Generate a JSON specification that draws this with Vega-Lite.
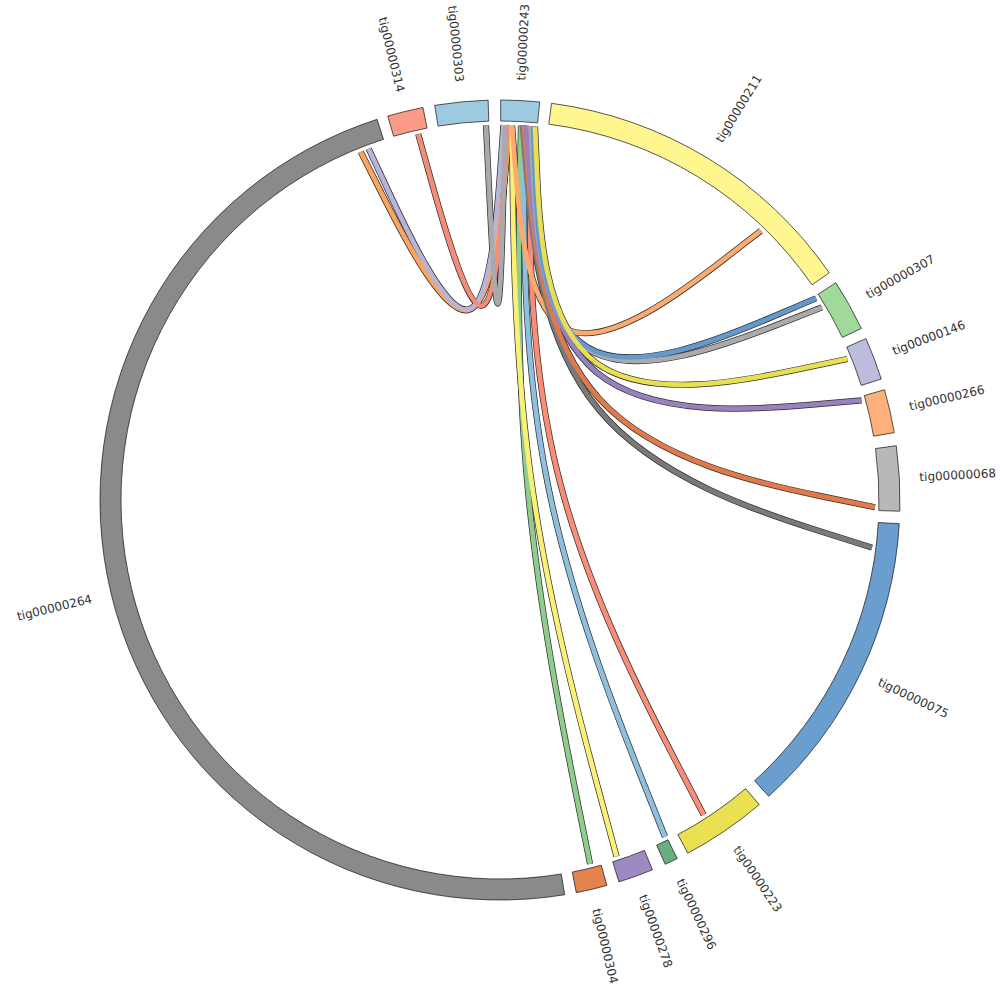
{
  "$schema": "https://vega.github.io/schema/vega-lite/v6.json",
  "width": 1000,
  "height": 1000,
  "autosize": {"type": "fit", "contains": "padding"},
  "padding": 0,
  "background": "white",
  "config": {"view": {"stroke": null}},
  "datasets": {
    "segments": [
      {"name": "tig00000243", "start": 0.1, "end": 5.7, "mid": 2.9},
      {"name": "tig00000211", "start": 7.4, "end": 55.4, "mid": 31.4},
      {"name": "tig00000307", "start": 57.1, "end": 64.6, "mid": 60.85},
      {"name": "tig00000146", "start": 66.2, "end": 72.4, "mid": 69.3},
      {"name": "tig00000266", "start": 74.0, "end": 80.3, "mid": 77.15},
      {"name": "tig00000068", "start": 82.2, "end": 91.6, "mid": 86.9},
      {"name": "tig00000075", "start": 93.4, "end": 137.8, "mid": 115.6},
      {"name": "tig00000223", "start": 139.6, "end": 152.0, "mid": 145.8},
      {"name": "tig00000296", "start": 153.7, "end": 155.6, "mid": 154.65},
      {"name": "tig00000278", "start": 157.6, "end": 162.7, "mid": 160.15},
      {"name": "tig00000304", "start": 164.5, "end": 169.0, "mid": 166.75},
      {"name": "tig00000264", "start": 170.7, "end": 342.1, "mid": 256.4},
      {"name": "tig00000314", "start": 343.7, "end": 348.9, "mid": 346.3},
      {"name": "tig00000303", "start": 350.6, "end": 358.3, "mid": 354.45}
    ],
    "chords": [
      {"chord": "243-264a", "i": 0, "x": 2.5, "y": 93.72},
      {"chord": "243-264a", "i": 1, "x": -4.04, "y": 25.97},
      {"chord": "243-264a", "i": 2, "x": -34.82, "y": 87.05},
      {"chord": "243-264b", "i": 0, "x": 0.87, "y": 93.75},
      {"chord": "243-264b", "i": 1, "x": -4.0, "y": 26.07},
      {"chord": "243-264b", "i": 2, "x": -32.83, "y": 87.81},
      {"chord": "243-314", "i": 0, "x": 2.0, "y": 93.73},
      {"chord": "243-314", "i": 1, "x": -2.31, "y": 26.53},
      {"chord": "243-314", "i": 2, "x": -20.45, "y": 91.49},
      {"chord": "303-243", "i": 0, "x": -3.5, "y": 93.68},
      {"chord": "303-243", "i": 1, "x": -0.28, "y": 26.8},
      {"chord": "303-243", "i": 2, "x": 1.24, "y": 93.74},
      {"chord": "243-304", "i": 0, "x": 5.25, "y": 93.6},
      {"chord": "243-304", "i": 1, "x": 3.47, "y": 3.7},
      {"chord": "243-304", "i": 2, "x": 22.52, "y": -91.0},
      {"chord": "243-278", "i": 0, "x": 3.0, "y": 93.7},
      {"chord": "243-278", "i": 1, "x": 4.02, "y": 3.95},
      {"chord": "243-278", "i": 2, "x": 29.13, "y": -89.11},
      {"chord": "243-296", "i": 0, "x": 6.0, "y": 93.56},
      {"chord": "243-296", "i": 1, "x": 5.91, "y": 4.55},
      {"chord": "243-296", "i": 2, "x": 41.24, "y": -84.19},
      {"chord": "243-223", "i": 0, "x": 7.5, "y": 93.45},
      {"chord": "243-223", "i": 1, "x": 7.3, "y": 5.22},
      {"chord": "243-223", "i": 2, "x": 50.92, "y": -78.71},
      {"chord": "243-211", "i": 0, "x": 2.99, "y": 93.7},
      {"chord": "243-211", "i": 1, "x": 8.53, "y": 23.5},
      {"chord": "243-211", "i": 2, "x": 65.24, "y": 67.32},
      {"chord": "243-075", "i": 0, "x": 5.49, "y": 93.59},
      {"chord": "243-075", "i": 1, "x": 12.31, "y": 13.58},
      {"chord": "243-075", "i": 2, "x": 92.99, "y": -11.91},
      {"chord": "243-068", "i": 0, "x": 6.0, "y": 93.56},
      {"chord": "243-068", "i": 1, "x": 12.47, "y": 14.85},
      {"chord": "243-068", "i": 2, "x": 93.73, "y": -1.8},
      {"chord": "243-266", "i": 0, "x": 6.49, "y": 93.53},
      {"chord": "243-266", "i": 1, "x": 12.11, "y": 18.18},
      {"chord": "243-266", "i": 2, "x": 90.38, "y": 24.9},
      {"chord": "243-307b", "i": 0, "x": 7.75, "y": 93.43},
      {"chord": "243-307b", "i": 1, "x": 11.03, "y": 21.07},
      {"chord": "243-307b", "i": 2, "x": 80.45, "y": 48.14},
      {"chord": "243-307a", "i": 0, "x": 8.25, "y": 93.39},
      {"chord": "243-307a", "i": 1, "x": 10.91, "y": 21.35},
      {"chord": "243-307a", "i": 2, "x": 79.02, "y": 50.44},
      {"chord": "243-146", "i": 0, "x": 8.76, "y": 93.34},
      {"chord": "243-146", "i": 1, "x": 11.95, "y": 19.45},
      {"chord": "243-146", "i": 2, "x": 86.86, "y": 35.27}
    ]
  },
  "layer": [
    {
      "data": {"name": "chords"},
      "mark": {"type": "line", "interpolate": "basis", "strokeWidth": 6.2, "color": "#2b2b2b", "strokeCap": "butt"},
      "encoding": {
        "x": {"field": "x", "type": "quantitative", "scale": {"domain": [-125, 125], "nice": false, "zero": false}, "axis": null},
        "y": {"field": "y", "type": "quantitative", "scale": {"domain": [-125, 125], "nice": false, "zero": false}, "axis": null},
        "detail": {"field": "chord", "type": "nominal"},
        "order": {"field": "i", "type": "quantitative"}
      }
    },
    {
      "data": {"name": "chords"},
      "mark": {"type": "line", "interpolate": "basis", "strokeWidth": 4.8, "strokeCap": "butt"},
      "encoding": {
        "x": {"field": "x", "type": "quantitative", "scale": {"domain": [-125, 125], "nice": false, "zero": false}, "axis": null},
        "y": {"field": "y", "type": "quantitative", "scale": {"domain": [-125, 125], "nice": false, "zero": false}, "axis": null},
        "color": {
          "field": "chord", "type": "nominal", "legend": null,
          "scale": {
            "domain": ["243-264a", "243-264b", "243-314", "303-243", "243-304", "243-278", "243-296", "243-223", "243-211", "243-075", "243-068", "243-266", "243-307b", "243-307a", "243-146"],
            "range": ["#fca45f", "#b8b4d8", "#f38c78", "#aaaaaa", "#8fcd8e", "#faf078", "#8ec0de", "#f98d78", "#fcaa70", "#7a7a7a", "#e07a4c", "#9683be", "#aaaaaa", "#6399cc", "#e8df55"]
          }
        },
        "order": {"field": "i", "type": "quantitative"}
      }
    },
    {
      "data": {"name": "segments"},
      "mark": {"type": "arc", "outerRadius": 400, "innerRadius": 379, "stroke": "#111111", "strokeWidth": 0.7},
      "encoding": {
        "theta": {"field": "start", "type": "quantitative", "stack": null, "scale": {"domain": [0, 360], "range": [0, 6.283185307179586]}},
        "theta2": {"field": "end"},
        "color": {
          "field": "name", "type": "nominal", "legend": null,
          "scale": {
            "domain": ["tig00000243", "tig00000211", "tig00000307", "tig00000146", "tig00000266", "tig00000068", "tig00000075", "tig00000223", "tig00000296", "tig00000278", "tig00000304", "tig00000264", "tig00000314", "tig00000303"],
            "range": ["#9ecae1", "#fff68f", "#a1d99b", "#bcbddc", "#fdb07b", "#b8b8b8", "#6a9ecf", "#e9e052", "#69ae7e", "#9c8ac2", "#e5834f", "#8a8a8a", "#fb9a86", "#9ecae1"]
          }
        }
      }
    },
    {
      "data": {"name": "segments"},
      "transform": [{"filter": "datum.mid < 180"}],
      "mark": {"type": "text", "radius": 420, "align": "left", "baseline": "middle", "font": "DejaVu Sans", "fontSize": 12, "color": "#333333"},
      "encoding": {
        "theta": {"field": "mid", "type": "quantitative", "stack": null, "scale": {"domain": [0, 360], "range": [0, 6.283185307179586]}},
        "angle": {"field": "mid", "type": "quantitative", "scale": {"domain": [0, 360], "range": [-90, 270]}},
        "text": {"field": "name", "type": "nominal"}
      }
    },
    {
      "data": {"name": "segments"},
      "transform": [{"filter": "datum.mid >= 180"}],
      "mark": {"type": "text", "radius": 420, "align": "right", "baseline": "middle", "font": "DejaVu Sans", "fontSize": 12, "color": "#333333"},
      "encoding": {
        "theta": {"field": "mid", "type": "quantitative", "stack": null, "scale": {"domain": [0, 360], "range": [0, 6.283185307179586]}},
        "angle": {"field": "mid", "type": "quantitative", "scale": {"domain": [0, 360], "range": [90, 450]}},
        "text": {"field": "name", "type": "nominal"}
      }
    }
  ],
  "resolve": {"scale": {"color": "independent", "angle": "independent"}}
}
